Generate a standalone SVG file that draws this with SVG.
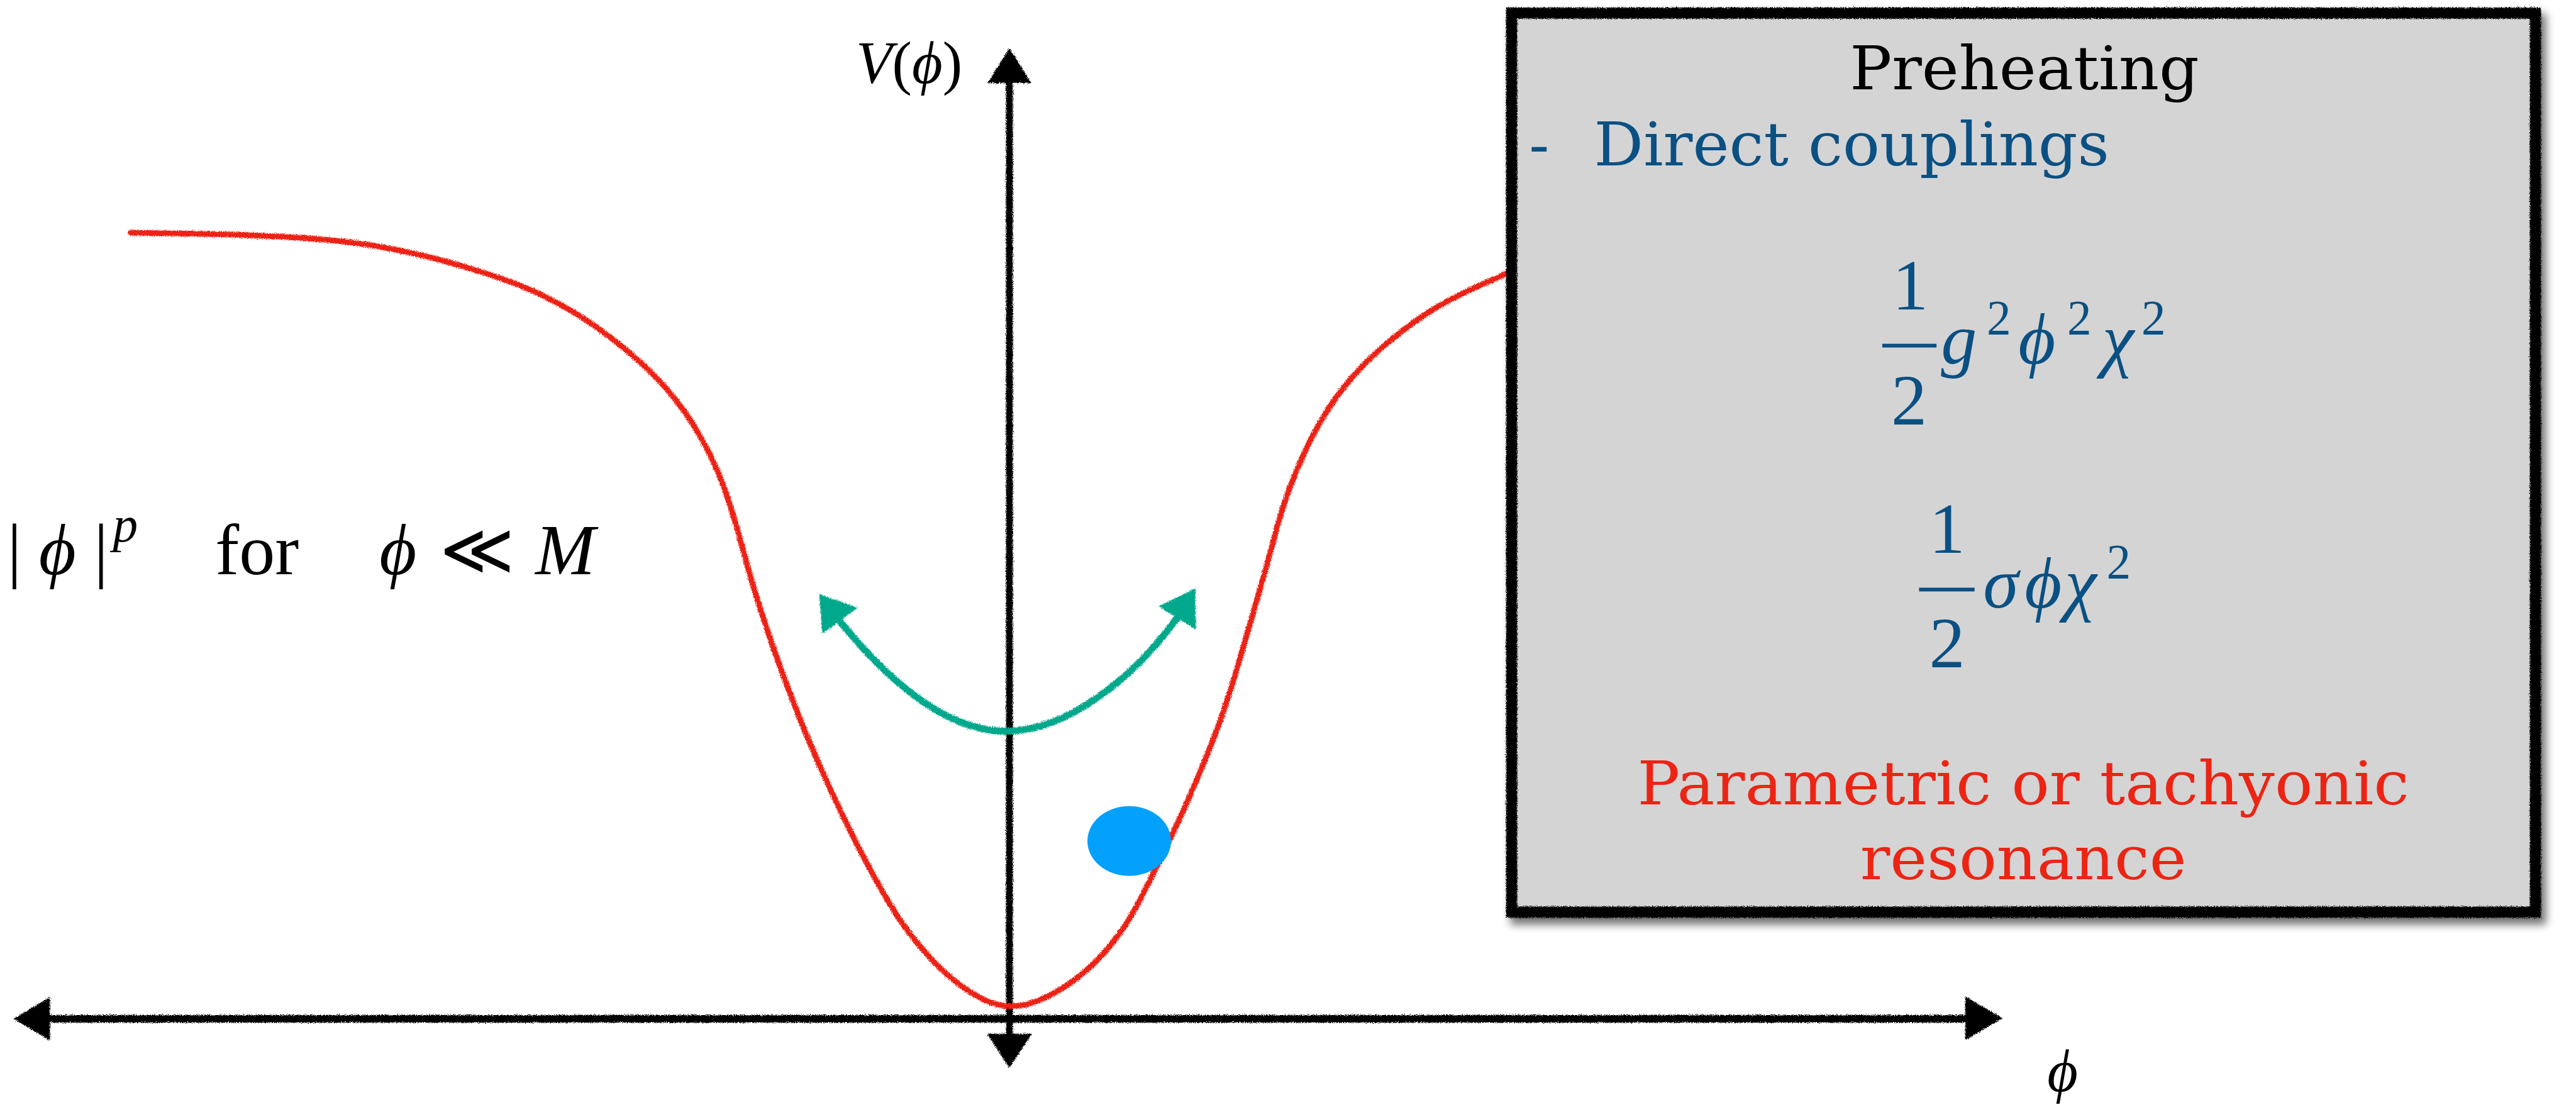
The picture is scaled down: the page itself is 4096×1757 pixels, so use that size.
<svg xmlns="http://www.w3.org/2000/svg" width="4096" height="1757" viewBox="0 0 4096 1757">
<style>
  .math{font-family:"Liberation Serif","DejaVu Serif",serif;}
  .it{font-style:italic;}
  .boxtxt{font-family:"DejaVu Serif","Liberation Serif",serif;font-size:96px;text-anchor:middle;}
  .blue{fill:#0a5083;}
  .red{fill:#ec2414;}
  .mid{text-anchor:middle;}
  .axis{stroke:#000;fill:none;stroke-linecap:butt;}
  .head{fill:#000;}
  .teal{stroke:#05a88c;stroke-width:11;fill:none;stroke-linecap:round;}
  .tealhead{fill:#05a88c;}
</style>
<defs>
  <filter id="rough" filterUnits="userSpaceOnUse" x="0" y="0" width="4200" height="1800">
    <feTurbulence type="fractalNoise" baseFrequency="0.9" numOctaves="2" seed="4" result="n"/>
    <feDisplacementMap in="SourceGraphic" in2="n" scale="7" xChannelSelector="R" yChannelSelector="G"/>
  </filter>
  <filter id="shadow" filterUnits="userSpaceOnUse" x="2300" y="0" width="1900" height="1600">
    <feGaussianBlur stdDeviation="7"/>
  </filter>
</defs>
<rect width="4096" height="1757" fill="#ffffff"/>
<g transform="scale(0.992)">

  <g id="connectors">
    <g id="axes" filter="url(#rough)">
      <line class="axis" x1="78" y1="1633" x2="3152" y2="1633" stroke-width="12"/>
      <polygon class="head" points="22,1633 80,1598 80,1668"/>
      <polygon class="head" points="3210,1632 3150,1597 3150,1667"/>
      <line class="axis" x1="1618" y1="130" x2="1618" y2="1660" stroke-width="11"/>
      <polygon class="head" points="1618,77 1583,133 1653,133"/>
      <polygon class="head" points="1618,1712 1582,1657 1654,1657"/>
    </g>
    <g id="potential-curve" filter="url(#rough)">
      <path d="M209,373 L304,374.5 Q399,376 478.5,381 Q558,386 618,397 Q678,408 737.5,425.5 Q797,443 837,459 Q877,475 917,499 Q957,523 996.5,555 Q1036,587 1068,623 Q1100,659 1124,702.5 Q1148,746 1162,785.5 Q1176,825 1190,877.5 Q1204,930 1218,973.5 Q1232,1017 1244,1051 Q1256,1085 1276,1136.5 Q1296,1188 1322.5,1246.5 Q1349,1305 1374.5,1355 Q1400,1405 1427.5,1451 Q1455,1497 1494,1538.5 Q1533,1580 1575.5,1601.5 Q1618,1623 1664,1604 Q1710,1585 1752.5,1545 Q1795,1505 1828.5,1440 Q1862,1375 1889,1316 Q1916,1257 1939,1199.5 Q1962,1142 1979,1084.5 Q1996,1027 2013.5,966 Q2031,905 2042.5,861.5 Q2054,818 2067,783 Q2080,748 2097.5,711.5 Q2115,675 2141.5,637.5 Q2168,600 2206.5,565 Q2245,530 2283,505 Q2321,480 2369.5,458.5 L2418,437" fill="none" stroke="#ec2414" stroke-width="9" stroke-linecap="round" stroke-linejoin="round"/>
    </g>
    <g id="oscillation-arrow" filter="url(#rough)">
      <path class="teal" d="M1345,994 C1430,1100 1525,1175 1617,1172 C1710,1170 1815,1090 1887,990"/>
      <polygon class="tealhead" points="1313,952 1375,974 1318,1016"/>
      <polygon class="tealhead" points="1916,943 1857,972 1917,1009"/>
    </g>
  </g>

  <g id="field-ball">
    <ellipse cx="1810" cy="1348" rx="67" ry="56" fill="#03a1fc"/>
  </g>

  <g id="axis-label-V" class="math" font-size="95">
    <text x="1372" y="133"><tspan class="it">V</tspan>(<tspan class="it">ϕ</tspan>)</text>
  </g>
  <g id="axis-label-phi" class="math" font-size="95">
    <text class="it mid" x="3306" y="1749">ϕ</text>
  </g>

  <g id="regime-label" class="math" font-size="115">
    <text class="mid" x="23" y="920">|</text>
    <text class="it mid" x="92" y="920">ϕ</text>
    <text class="mid" x="162" y="920">|</text>
    <text class="it mid" x="201" y="868" font-size="80">p</text>
    <text x="345" y="920">for</text>
    <text class="it mid" x="638" y="920">ϕ</text>
    <text class="mid" x="765" y="920">≪</text>
    <text class="it mid" x="906" y="920">M</text>
  </g>

  <g id="preheating-box">
    <rect x="2416" y="16" width="1660" height="1460" fill="#000" opacity="0.55" filter="url(#shadow)" transform="translate(5,6)"/>
    <rect x="2423" y="21" width="1641" height="1441" fill="#d4d4d4"/>
    <rect x="2423" y="21" width="1641" height="1441" fill="none" stroke="#000" stroke-width="18" filter="url(#rough)"/>
    <text class="boxtxt" x="3245" y="143" fill="#000" textLength="560" lengthAdjust="spacingAndGlyphs">Preheating</text>
    <text class="boxtxt blue" x="2467" y="265">-</text>
    <text class="boxtxt blue" x="2555" y="265" style="text-anchor:start" textLength="826" lengthAdjust="spacingAndGlyphs">Direct couplings</text>
    <g class="math blue" font-size="115">
      <text class="mid" x="3062" y="496">1</text>
      <rect x="3017" y="551" width="87" height="6"/>
      <text class="mid" x="3060" y="680">2</text>
      <text class="it mid" x="3140" y="583">g</text>
      <text class="mid" x="3204" y="535" font-size="78">2</text>
      <text class="it mid" x="3265" y="583">ϕ</text>
      <text class="mid" x="3333" y="535" font-size="78">2</text>
      <text class="it mid" x="3395" y="583">χ</text>
      <text class="mid" x="3452" y="535" font-size="78">2</text>

      <text class="mid" x="3121" y="886">1</text>
      <rect x="3076" y="942" width="89" height="6"/>
      <text class="mid" x="3121" y="1070">2</text>
      <text class="it mid" x="3207" y="974">σ</text>
      <text class="it mid" x="3275" y="974">ϕ</text>
      <text class="it mid" x="3335" y="974">χ</text>
      <text class="mid" x="3396" y="926" font-size="78">2</text>
    </g>
    <text class="boxtxt red" x="3243" y="1289" textLength="1237" lengthAdjust="spacingAndGlyphs">Parametric or tachyonic</text>
    <text class="boxtxt red" x="3243" y="1409" textLength="523" lengthAdjust="spacingAndGlyphs">resonance</text>
  </g>
</g>
</svg>
